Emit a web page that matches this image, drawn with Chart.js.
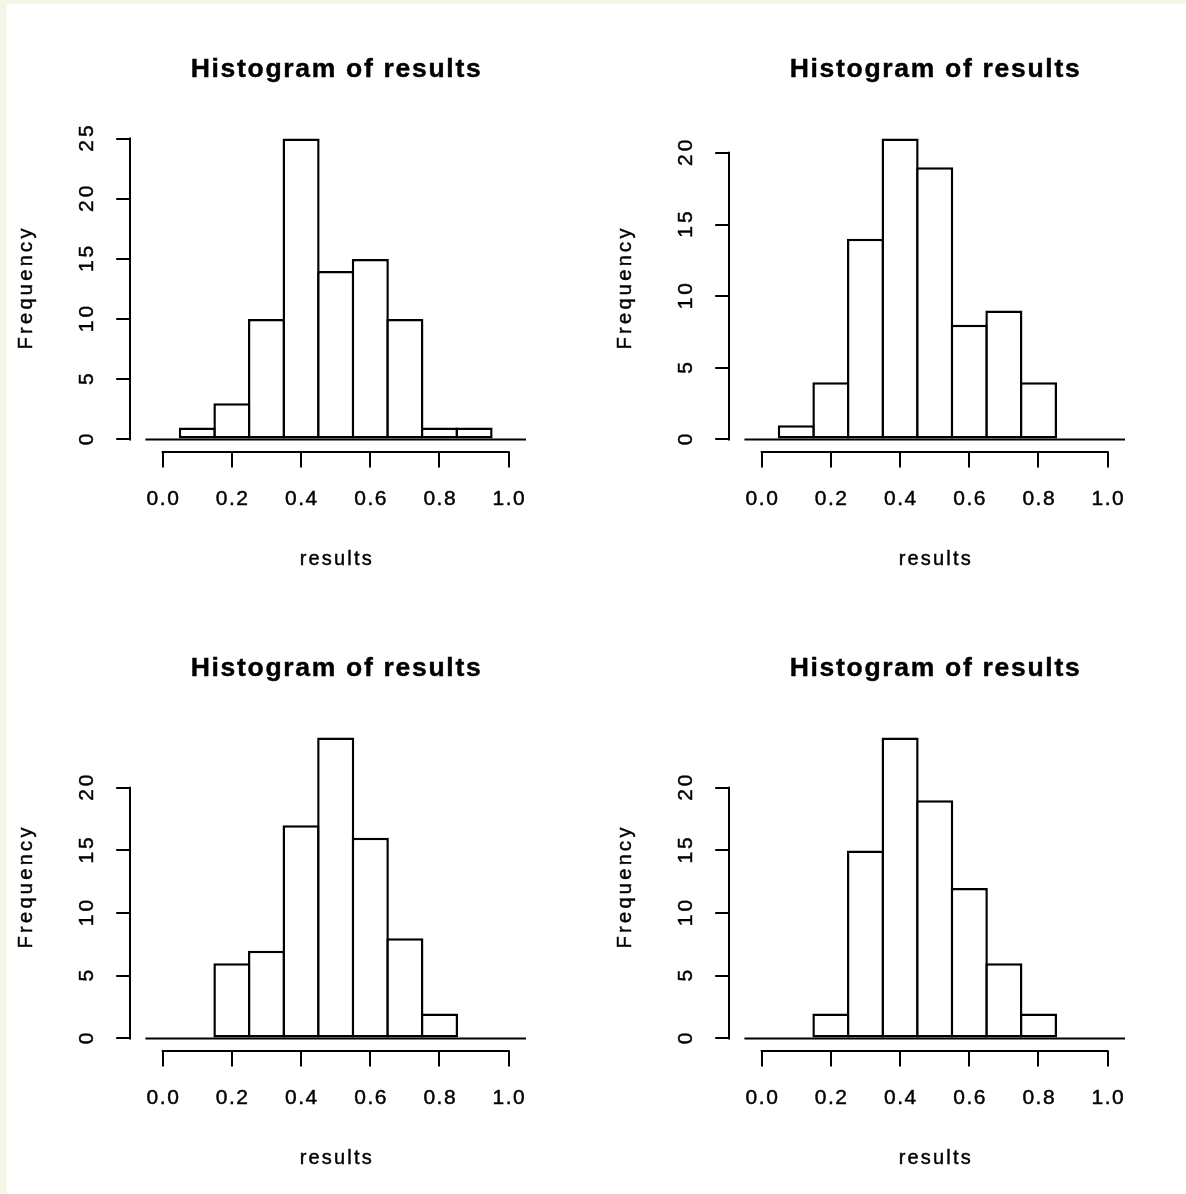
<!DOCTYPE html>
<html>
<head>
<meta charset="utf-8">
<title>Histogram of results</title>
<script src="https://cdn.jsdelivr.net/npm/chart.js@4.4.1/dist/chart.umd.min.js"></script>
<style>
  html, body { margin: 0; padding: 0; overflow: hidden; background: #f6f6e8; }
  #sheet { position: absolute; left: 7px; top: 4px; width: 1179px; height: 1190px; background: #fff; }
  canvas { position: absolute; }
</style>
</head>
<body>
<div id="sheet"></div>
<canvas id="hist1" width="587" height="595" style="left:0;top:0"></canvas>
<canvas id="hist2" width="587" height="595" style="left:599px;top:0"></canvas>
<canvas id="hist3" width="587" height="595" style="left:0;top:599px"></canvas>
<canvas id="hist4" width="587" height="595" style="left:599px;top:599px"></canvas>
<script>
// bin edges and mid points shared by all four histograms
const BREAKS = [-0.05, 0.05, 0.15, 0.25, 0.35, 0.45, 0.55, 0.65, 0.75, 0.85, 0.95, 1.05];
const MIDS = [0.0, 0.1, 0.2, 0.3, 0.4, 0.5, 0.6, 0.7, 0.8, 0.9, 1.0];

const COUNTS_1 = [0, 1, 3, 10, 25, 14, 15, 10, 1, 1, 0];
const COUNTS_2 = [0, 1, 4, 14, 21, 19, 8, 9, 4, 0, 0];
const COUNTS_3 = [0, 0, 6, 7, 17, 24, 16, 8, 2, 0, 0];
const COUNTS_4 = [0, 0, 2, 15, 24, 19, 12, 6, 2, 0, 0];

const X_TICKS = [0, 0.2, 0.4, 0.6, 0.8, 1.0];
const X_TICK_LABELS = ["0.0", "0.2", "0.4", "0.6", "0.8", "1.0"];
const Y_TICKS_1 = [0, 5, 10, 15, 20, 25];
const Y_TICKS_2 = [0, 5, 10, 15, 20];
const Y_TICKS_3 = [0, 5, 10, 15, 20];
const Y_TICKS_4 = [0, 5, 10, 15, 20];

const TITLE = "Histogram of results";
const X_TITLE = "results";
const Y_TITLE = "Frequency";

const INK = "#000";
const FONT = '"Liberation Sans", Arial, sans-serif';

// text a touch heavier, like the old windows device output
function inkText(ctx, s, x, y) {
  ctx.fillText(s, x, y);
  ctx.strokeText(s, x, y);
}

// draws R-style axis lines (first tick to last tick) and all the texts
const rStyle = {
  id: "rStyle",
  afterDraw(chart) {
    const { ctx, chartArea: a } = chart;
    const xs = chart.scales.x;
    const ys = chart.scales.y;
    const yTicks = chart.options.plugins.rStyle.yTicks;
    const cx = (a.left + a.right) / 2;
    const cy = (a.top + a.bottom) / 2;

    ctx.save();
    ctx.strokeStyle = "#000";
    ctx.lineWidth = 2;
    ctx.lineCap = "square";
    ctx.beginPath();
    ctx.moveTo(xs.getPixelForValue(X_TICKS[0]), Math.round(a.bottom));
    ctx.lineTo(xs.getPixelForValue(X_TICKS[X_TICKS.length - 1]), Math.round(a.bottom));
    ctx.moveTo(Math.round(a.left), ys.getPixelForValue(yTicks[0]));
    ctx.lineTo(Math.round(a.left), ys.getPixelForValue(yTicks[yTicks.length - 1]));
    ctx.stroke();

    ctx.fillStyle = INK;
    ctx.strokeStyle = INK;
    ctx.lineWidth = 0.45;
    ctx.lineCap = "butt";
    ctx.textAlign = "center";
    ctx.textBaseline = "alphabetic";

    // x tick labels
    ctx.font = "21px " + FONT;
    ctx.letterSpacing = "1.5px";
    X_TICKS.forEach((v, i) => {
      inkText(ctx, X_TICK_LABELS[i], xs.getPixelForValue(v) + 0.75, a.bottom + 53.5);
    });

    // y tick labels, parallel to the axis
    ctx.letterSpacing = "3px";
    yTicks.forEach(v => {
      ctx.save();
      ctx.translate(a.left - 37, ys.getPixelForValue(v) - 1.5);
      ctx.rotate(-Math.PI / 2);
      inkText(ctx, String(v), 0, 0);
      ctx.restore();
    });

    // axis titles
    ctx.font = "20px " + FONT;
    ctx.letterSpacing = "2.2px";
    inkText(ctx, X_TITLE, cx + 1.1, a.bottom + 113.5);

    ctx.letterSpacing = "3.3px";
    ctx.save();
    ctx.translate(a.left - 98, cy - 1.6);
    ctx.rotate(-Math.PI / 2);
    inkText(ctx, Y_TITLE, 0, 0);
    ctx.restore();

    // main title
    ctx.font = "bold 26.5px " + FONT;
    ctx.letterSpacing = "1.7px";
    inkText(ctx, TITLE, cx + 0.85, a.top - 49.8);
    ctx.restore();
  }
};

function makeHist(canvasId, counts, yTicks) {
  const top = Math.max(...counts);
  return new Chart(document.getElementById(canvasId), {
    type: "bar",
    data: {
      datasets: [
        {
          // zero-count bins show as a line along the breaks
          type: "line",
          data: [
            { x: BREAKS[0], y: 0 },
            { x: BREAKS[BREAKS.length - 1], y: 0 },
          ],
          borderColor: "#000",
          borderWidth: 2,
          pointRadius: 0,
          order: 0,
        },
        {
          type: "bar",
          data: MIDS.map((m, i) => ({ x: m, y: counts[i] })),
          backgroundColor: "#fff",
          borderColor: "#000",
          borderWidth: 2.5,
          borderSkipped: false,
          inflateAmount: 0,
          barPercentage: 1.072,
          categoryPercentage: 1,
          order: 1,
        },
      ],
    },
    options: {
      responsive: false,
      animation: false,
      layout: { padding: { top: 126.5, right: 45.8, left: 0, bottom: 0 } },
      plugins: {
        legend: { display: false },
        tooltip: { enabled: false },
        rStyle: { yTicks },
      },
      scales: {
        x: {
          type: "linear",
          min: -0.094,
          max: 1.094,
          offset: false,
          grid: {
            offset: false,
            drawOnChartArea: false,
            drawTicks: true,
            tickLength: 16,
            lineWidth: 2,
            color: "#000",
          },
          border: { display: false },
          ticks: { display: false },
          afterBuildTicks: s => { s.ticks = X_TICKS.map(v => ({ value: v })); },
          afterFit: s => { s.height = 143.5; },
        },
        y: {
          min: -0.04 * top,
          max: 1.04 * top,
          grid: {
            drawOnChartArea: false,
            drawTicks: true,
            tickLength: 14,
            lineWidth: 2,
            color: "#000",
          },
          border: { display: false },
          ticks: { display: false },
          afterBuildTicks: s => { s.ticks = yTicks.map(v => ({ value: v })); },
          afterFit: s => { s.width = 130.2; },
        },
      },
    },
    plugins: [rStyle],
  });
}

makeHist("hist1", COUNTS_1, Y_TICKS_1);
makeHist("hist2", COUNTS_2, Y_TICKS_2);
makeHist("hist3", COUNTS_3, Y_TICKS_3);
makeHist("hist4", COUNTS_4, Y_TICKS_4);
</script>
</body>
</html>
